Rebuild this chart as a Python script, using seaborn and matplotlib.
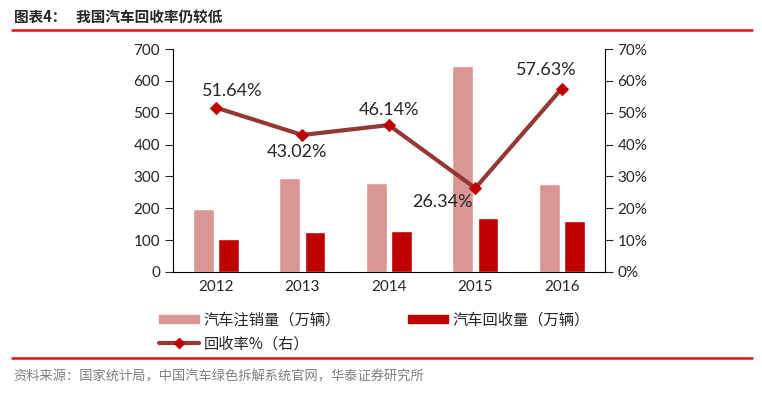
import pandas as pd
import numpy as np
import matplotlib.pyplot as plt
import seaborn as sns
from matplotlib.patches import Patch
from matplotlib.lines import Line2D
from matplotlib.ticker import FuncFormatter

years = ['2012', '2013', '2014', '2015', '2016']
registered = [198, 295, 278, 646, 277]   # 汽车注销量（万辆）
recycled = [102, 127, 129, 171, 160]     # 汽车回收量（万辆）
rate = [51.64, 43.02, 46.14, 26.34, 57.63]  # 回收率%

name_reg = '汽车注销量（万辆）'
name_rec = '汽车回收量（万辆）'
name_rate = '回收率%（右）'

sns.set_style('white')
plt.rcParams['font.family'] = ['Lato', 'Noto Sans CJK SC', 'DejaVu Sans']

df = pd.DataFrame({'year': years * 2,
                   'value': registered + recycled,
                   'series': [name_reg] * 5 + [name_rec] * 5})

fig = plt.figure(figsize=(7.62, 3.93), dpi=100)
ax = fig.add_axes([0.2265, 0.308, 0.5675, 0.567])

sns.barplot(data=df, x='year', y='value', hue='series', ax=ax,
            palette=['#D99694', '#C00000'], width=0.58, gap=0.18,
            legend=False, saturation=1)
ax.set_xlim(-0.5, 4.5)
ax.set_ylim(0, 700)
ax.set_yticks(range(0, 701, 100))
ax.set_xlabel('')
ax.set_ylabel('')
ax.set_xticks(np.arange(-0.5, 5, 1), minor=True)
ax.tick_params(axis='x', which='major', length=0, labelsize=11, pad=6)
ax.tick_params(axis='x', which='minor', length=5, width=0.8, direction='out')
ax.tick_params(axis='y', length=6, width=0.8, direction='out', labelsize=11, pad=3)
for s in ['left', 'bottom']:
    ax.spines[s].set_linewidth(0.8)
    ax.spines[s].set_color('black')
ax.spines['top'].set_visible(False)
ax.spines['right'].set_visible(False)

ax2 = ax.twinx()
rdf = pd.DataFrame({'x': range(5), 'rate': rate})
sns.lineplot(data=rdf, x='x', y='rate', ax=ax2, color='#953735', linewidth=3,
             marker='D', markersize=6, markerfacecolor='#C00000',
             markeredgecolor='#C00000', legend=False)
ax2.set_ylim(0, 70)
ax2.set_yticks(range(0, 71, 10))
ax2.yaxis.set_major_formatter(FuncFormatter(lambda v, p: f'{v:.0f}%'))
ax2.set_xlim(-0.5, 4.5)
ax2.set_xlabel('')
ax2.set_ylabel('')
ax2.tick_params(axis='y', length=6, width=0.8, direction='out', labelsize=11, pad=3)
ax2.spines['top'].set_visible(False)
ax2.spines['left'].set_visible(False)
ax2.spines['bottom'].set_visible(False)
ax2.spines['right'].set_linewidth(0.8)
ax2.spines['right'].set_color('black')

offsets = [(12, 12), (-4, -12), (0, 11), (-24, -10), (-11, 13)]
for i, v in enumerate(rate):
    ax2.annotate(f'{v:.2f}%', (i, v), xytext=offsets[i], textcoords='offset points',
                 ha='center', va='center', fontsize=13)

handles = [Patch(color='#D99694'),
           Line2D([], [], color='#953735', linewidth=3, marker='D', markersize=5,
                  markerfacecolor='#C00000', markeredgecolor='#C00000'),
           Patch(color='#C00000')]
labels = [name_reg, name_rate, name_rec]
fig.legend(handles, labels, loc='upper left', bbox_to_anchor=(0.191, 0.243), ncol=2,
           frameon=False, handlelength=2.6, handleheight=0.45,
           columnspacing=4.4, labelspacing=0.45, handletextpad=0.3,
           prop={'family': ['Noto Sans CJK SC'], 'size': 11})

# header and footer
fig.add_artist(Line2D([0.016, 0.987], [0.924, 0.924], color='#E3120B', linewidth=1.8))
fig.add_artist(Line2D([0.016, 0.987], [0.089, 0.089], color='#E3120B', linewidth=1.8))
fig.text(0.018, 0.958, '图表4：   我国汽车回收率仍较低', fontsize=10.5, fontweight='bold',
         family=['Noto Sans CJK SC'], va='center')
fig.text(0.018, 0.04, '资料来源：国家统计局，中国汽车绿色拆解系统官网，华泰证券研究所',
         fontsize=9.5, color='#7F7F7F', family=['Noto Sans CJK SC'], va='center')

fig.savefig('out.png', dpi=100)
